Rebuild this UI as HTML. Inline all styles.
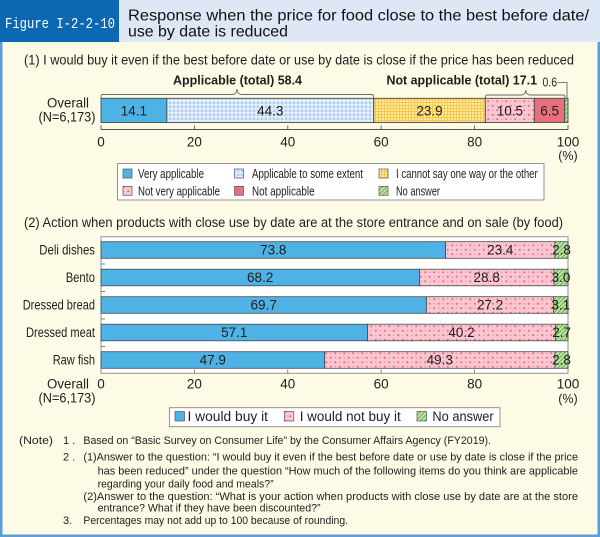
<!DOCTYPE html>
<html><head><meta charset="utf-8"><style>
html,body{margin:0;padding:0;background:#fdfbe6;}
svg{display:block;}
text{font-family:"Liberation Sans",sans-serif;fill:#1e1e1e;}
</style></head><body>
<svg width="600" height="537" viewBox="0 0 600 537" xmlns="http://www.w3.org/2000/svg">
<defs>
<pattern id="pb" width="4" height="4" patternUnits="userSpaceOnUse">
<rect width="4" height="4" fill="#e4effa"/><path d="M0.3,3.7 L2,0.8 L3.7,3.7Z" fill="#a8caec"/>
</pattern>
<pattern id="py" width="3" height="3" patternUnits="userSpaceOnUse">
<rect width="3" height="3" fill="#fee9a2"/><rect width="3" height="1" fill="#f6c94c"/><rect width="1" height="3" fill="#f6c94c"/>
</pattern>
<pattern id="pp" width="9" height="9" patternUnits="userSpaceOnUse">
<rect width="9" height="9" fill="#fac7d1"/><circle cx="2.25" cy="2.25" r="1" fill="#e3647f"/><circle cx="6.75" cy="6.75" r="1" fill="#e3647f"/><circle cx="6.75" cy="2.25" r="0.7" fill="#ec93a6"/><circle cx="2.25" cy="6.75" r="0.7" fill="#ec93a6"/>
</pattern>
<pattern id="pg" width="3" height="3" patternUnits="userSpaceOnUse" patternTransform="rotate(45)">
<rect width="3" height="3" fill="#c6e6ae"/><rect width="1.2" height="3" fill="#6fb552"/>
</pattern>
</defs>

<rect x="0" y="0" width="600" height="537" fill="#fdfbe6"/>
<rect x="0" y="0" width="119" height="42" fill="#0b69b4"/>
<rect x="119" y="0" width="481" height="42" fill="#dde7f6"/>
<rect x="0" y="42" width="2.5" height="495" fill="#5a9fda"/>
<rect x="597.5" y="42" width="2.5" height="495" fill="#5a9fda"/>
<rect x="0" y="534.5" width="600" height="2.5" fill="#5a9fda"/>

<text x="5" y="28" font-size="15" textLength="110" lengthAdjust="spacingAndGlyphs" style="fill:#fff;font-family:'Liberation Mono',monospace">Figure I-2-2-10</text>
<text x="128" y="20.5" font-size="16" textLength="461" lengthAdjust="spacingAndGlyphs" style="fill:#111">Response when the price for food close to the best before date/</text>
<text x="128" y="36.5" font-size="16" textLength="160" lengthAdjust="spacingAndGlyphs" style="fill:#111">use by date is reduced</text>

<text x="24" y="64.5" font-size="13.5" textLength="550" lengthAdjust="spacingAndGlyphs">(1) I would buy it even if the best before date or use by date is close if the price has been reduced</text>
<text x="173" y="84.5" font-size="13" font-weight="bold" textLength="129" lengthAdjust="spacingAndGlyphs">Applicable (total) 58.4</text>
<text x="386.5" y="84.5" font-size="13" font-weight="bold" textLength="150.5" lengthAdjust="spacingAndGlyphs">Not applicable (total) 17.1</text>
<text x="542.5" y="86.5" font-size="12.5" textLength="14.5" lengthAdjust="spacingAndGlyphs">0.6</text>
<path d="M557.5,82.5 H567 V98" fill="none" stroke="#555" stroke-width="0.8"/>
<path d="M101,98 V96.5 Q101,94.5 103,94.5 H232.5 Q236.5,94.5 237,89 Q237.5,94.5 241.5,94.5 H371.5 Q373.5,94.5 373.5,96.5 V98" fill="none" stroke="#666" stroke-width="0.9"/>
<path d="M485.5,98 V97 Q485.5,95 487.5,95 H521.5 Q525.5,95 525.8,90 Q526.1,95 530,95 H563 Q565,95 565,97 V98" fill="none" stroke="#666" stroke-width="0.9"/>

<text x="68" y="107.5" font-size="13.5" text-anchor="middle" textLength="42" lengthAdjust="spacingAndGlyphs">Overall</text>
<text x="95.5" y="121.5" font-size="13.5" text-anchor="end" textLength="57" lengthAdjust="spacingAndGlyphs">(N=6,173)</text>

<g stroke="#4a4a4a" stroke-width="0.9">
<rect x="101" y="98.3" width="65.85" height="24.2" fill="#4eb2e4"/>
<rect x="166.85" y="98.3" width="206.88" height="24.2" fill="url(#pb)"/>
<rect x="373.73" y="98.3" width="111.61" height="24.2" fill="url(#py)"/>
<rect x="485.34" y="98.3" width="49.04" height="24.2" fill="url(#pp)"/>
<rect x="534.38" y="98.3" width="30.35" height="24.2" fill="#e8707d"/>
<rect x="564.73" y="98.3" width="3.27" height="24.2" fill="url(#pg)"/>
</g>
<g font-size="13.5" text-anchor="middle">
<text x="133.9" y="115.3">14.1</text>
<text x="270.3" y="115.3">44.3</text>
<text x="429.5" y="115.3">23.9</text>
<text x="509.9" y="115.3">10.5</text>
<text x="549.6" y="115.3">6.5</text>
</g>
<g stroke="#555" stroke-width="0.9">
<line x1="101" y1="129.5" x2="568" y2="129.5"/>
<line x1="101" y1="125" x2="101" y2="129.5"/>
<line x1="194.4" y1="125.5" x2="194.4" y2="129.5"/>
<line x1="287.8" y1="125.5" x2="287.8" y2="129.5"/>
<line x1="381.2" y1="125.5" x2="381.2" y2="129.5"/>
<line x1="474.6" y1="125.5" x2="474.6" y2="129.5"/>
<line x1="568" y1="125" x2="568" y2="129.5"/>
</g>
<g font-size="13.5" text-anchor="middle">
<text x="101" y="146.3">0</text>
<text x="194.4" y="146.3">20</text>
<text x="287.8" y="146.3">40</text>
<text x="381.2" y="146.3">60</text>
<text x="474.6" y="146.3">80</text>
<text x="568" y="146.3">100</text>
<text x="568" y="159.8" font-size="12.5">(%)</text>
</g>

<rect x="117.5" y="163.5" width="426.5" height="36.5" fill="#fff" stroke="#888" stroke-width="0.9"/>
<g stroke="#555" stroke-width="0.7">
<rect x="123" y="169" width="9" height="9" fill="#4eb2e4"/>
<rect x="234.5" y="169" width="9" height="9" fill="url(#pb)"/>
<rect x="379" y="169" width="9" height="9" fill="url(#py)"/>
<rect x="123" y="186.3" width="9" height="9" fill="url(#pp)"/>
<rect x="234.5" y="186.3" width="9" height="9" fill="#e8707d"/>
<rect x="379" y="186.3" width="9" height="9" fill="url(#pg)"/>
</g>
<g font-size="12.5">
<text x="138" y="178" textLength="66" lengthAdjust="spacingAndGlyphs">Very applicable</text>
<text x="252" y="178" textLength="111" lengthAdjust="spacingAndGlyphs">Applicable to some extent</text>
<text x="396" y="178" textLength="141.7" lengthAdjust="spacingAndGlyphs">I cannot say one way or the other</text>
<text x="138" y="195.3" textLength="82" lengthAdjust="spacingAndGlyphs">Not very applicable</text>
<text x="252" y="195.3" textLength="62.6" lengthAdjust="spacingAndGlyphs">Not applicable</text>
<text x="396" y="195.3" textLength="44" lengthAdjust="spacingAndGlyphs">No answer</text>
</g>

<text x="24" y="226.8" font-size="13.5" textLength="539" lengthAdjust="spacingAndGlyphs">(2) Action when products with close use by date are at the store entrance and on sale (by food)</text>

<rect x="101" y="236.7" width="467" height="136.6" fill="#fff" stroke="#888" stroke-width="0.9"/>
<g stroke="#4a4a4a" stroke-width="0.8">
<rect x="101" y="241.7" width="344.65" height="16.6" fill="#4eb2e4"/>
<rect x="445.65" y="241.7" width="109.27" height="16.6" fill="url(#pp)"/>
<rect x="554.92" y="241.7" width="13.08" height="16.6" fill="url(#pg)"/>

<rect x="101" y="269.2" width="318.49" height="16.6" fill="#4eb2e4"/>
<rect x="419.49" y="269.2" width="134.5" height="16.6" fill="url(#pp)"/>
<rect x="553.99" y="269.2" width="14.01" height="16.6" fill="url(#pg)"/>

<rect x="101" y="296.7" width="325.5" height="16.6" fill="#4eb2e4"/>
<rect x="426.5" y="296.7" width="127.02" height="16.6" fill="url(#pp)"/>
<rect x="553.52" y="296.7" width="14.48" height="16.6" fill="url(#pg)"/>

<rect x="101" y="324.2" width="266.66" height="16.6" fill="#4eb2e4"/>
<rect x="367.66" y="324.2" width="187.73" height="16.6" fill="url(#pp)"/>
<rect x="555.39" y="324.2" width="12.61" height="16.6" fill="url(#pg)"/>

<rect x="101" y="351.7" width="223.69" height="16.6" fill="#4eb2e4"/>
<rect x="324.69" y="351.7" width="230.23" height="16.6" fill="url(#pp)"/>
<rect x="554.92" y="351.7" width="13.08" height="16.6" fill="url(#pg)"/>
</g>
<g stroke="#666" stroke-width="0.8">
<line x1="101" y1="264" x2="105" y2="264"/>
<line x1="101" y1="291.6" x2="105" y2="291.6"/>
<line x1="101" y1="319" x2="105" y2="319"/>
<line x1="101" y1="346.6" x2="105" y2="346.6"/>
<line x1="194.4" y1="369.5" x2="194.4" y2="373.3"/>
<line x1="287.8" y1="369.5" x2="287.8" y2="373.3"/>
<line x1="381.2" y1="369.5" x2="381.2" y2="373.3"/>
<line x1="474.6" y1="369.5" x2="474.6" y2="373.3"/>
</g>
<g font-size="13.5" text-anchor="middle">
<text x="273.3" y="254.7">73.8</text><text x="500.3" y="254.7">23.4</text><text x="561.5" y="254.7">2.8</text>
<text x="260.2" y="282.2">68.2</text><text x="486.7" y="282.2">28.8</text><text x="561.0" y="282.2">3.0</text>
<text x="263.7" y="309.7">69.7</text><text x="490.0" y="309.7">27.2</text><text x="560.8" y="309.7">3.1</text>
<text x="234.3" y="337.2">57.1</text><text x="461.5" y="337.2">40.2</text><text x="561.7" y="337.2">2.7</text>
<text x="212.8" y="364.7">47.9</text><text x="439.8" y="364.7">49.3</text><text x="561.5" y="364.7">2.8</text>
</g>
<g font-size="13.5" text-anchor="end">
<text x="95" y="254.7" textLength="55.7" lengthAdjust="spacingAndGlyphs">Deli dishes</text>
<text x="95" y="282.2" textLength="29.3" lengthAdjust="spacingAndGlyphs">Bento</text>
<text x="95" y="309.7" textLength="72.3" lengthAdjust="spacingAndGlyphs">Dressed bread</text>
<text x="95" y="337.2" textLength="69" lengthAdjust="spacingAndGlyphs">Dressed meat</text>
<text x="95" y="364.7" textLength="42.3" lengthAdjust="spacingAndGlyphs">Raw fish</text>
</g>
<text x="68" y="388.5" font-size="13.5" text-anchor="middle" textLength="42" lengthAdjust="spacingAndGlyphs">Overall</text>
<text x="95.5" y="402.3" font-size="13.5" text-anchor="end" textLength="57" lengthAdjust="spacingAndGlyphs">(N=6,173)</text>
<g font-size="13.5" text-anchor="middle">
<text x="101" y="388.5">0</text>
<text x="194.4" y="388.5">20</text>
<text x="287.8" y="388.5">40</text>
<text x="381.2" y="388.5">60</text>
<text x="474.6" y="388.5">80</text>
<text x="568" y="388.5">100</text>
<text x="568" y="402.8" font-size="12.5">(%)</text>
</g>

<rect x="169.5" y="407.7" width="330.5" height="19" fill="#fff" stroke="#888" stroke-width="0.9"/>
<g stroke="#555" stroke-width="0.7">
<rect x="175" y="411.5" width="9.5" height="9.5" fill="#4eb2e4"/>
<rect x="284.3" y="411.5" width="9.5" height="9.5" fill="url(#pp)"/>
<rect x="417" y="411.5" width="9.5" height="9.5" fill="url(#pg)"/>
</g>
<g font-size="13.5">
<text x="187.5" y="420.8" textLength="80.5" lengthAdjust="spacingAndGlyphs">I would buy it</text>
<text x="299.7" y="420.8" textLength="101" lengthAdjust="spacingAndGlyphs">I would not buy it</text>
<text x="432.4" y="420.8" textLength="61.3" lengthAdjust="spacingAndGlyphs">No answer</text>
</g>

<g font-size="11">
<text x="19" y="444" textLength="34" lengthAdjust="spacingAndGlyphs">(Note)</text>
<text x="63" y="444">1 .</text>
<text x="83.4" y="444" textLength="407.6" lengthAdjust="spacingAndGlyphs">Based on “Basic Survey on Consumer Life” by the Consumer Affairs Agency (FY2019).</text>
<text x="63" y="460.7">2 .</text>
<text x="83.4" y="460.7" textLength="494.6" lengthAdjust="spacingAndGlyphs">(1)Answer to the question: “I would buy it even if the best before date or use by date is close if the price</text>
<text x="97.6" y="474.5" textLength="480.4" lengthAdjust="spacingAndGlyphs">has been reduced” under the question “How much of the following items do you think are applicable</text>
<text x="97.6" y="487.3" textLength="176" lengthAdjust="spacingAndGlyphs">regarding your daily food and meals?”</text>
<text x="83.4" y="500" textLength="494.6" lengthAdjust="spacingAndGlyphs">(2)Answer to the question: “What is your action when products with close use by date are at the store</text>
<text x="97.6" y="511.5" textLength="223" lengthAdjust="spacingAndGlyphs">entrance? What if they have been discounted?”</text>
<text x="63" y="524">3.</text>
<text x="83.4" y="524" textLength="264.6" lengthAdjust="spacingAndGlyphs">Percentages may not add up to 100 because of rounding.</text>
</g>
</svg>
</body></html>
